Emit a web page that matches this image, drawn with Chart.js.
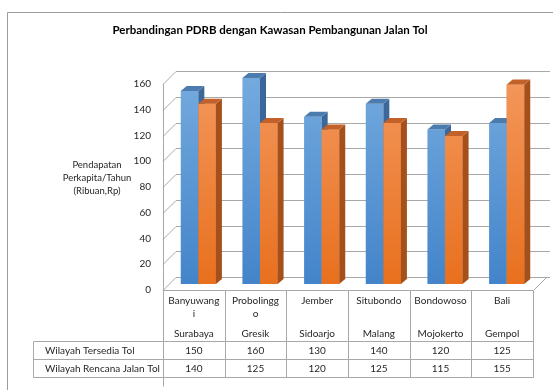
<!DOCTYPE html>
<html>
<head>
<meta charset="utf-8">
<script src="https://cdn.jsdelivr.net/npm/chart.js@4/dist/chart.umd.min.js"></script>
<style>
  html, body { margin: 0; padding: 0; background: #ffffff; }
  canvas { display: block; }
</style>
</head>
<body>
<canvas id="chart" width="553" height="390"></canvas>
<script>
// ---- data ----
const chartTitle = 'Perbandingan PDRB dengan Kawasan Pembangunan Jalan Tol';
// origin names as they break inside the narrow table cells
const originLines = [['Banyuwang', 'i'], ['Probolingg', 'o'], ['Jember'], ['Situbondo'], ['Bondowoso'], ['Bali']];
const destinations = ['Surabaya', 'Gresik', 'Sidoarjo', 'Malang', 'Mojokerto', 'Gempol'];
const seriesNames = ['Wilayah Tersedia Tol', 'Wilayah Rencana Jalan Tol'];
const tersediaTol = [150, 160, 130, 140, 120, 125];
const rencanaJalanTol = [140, 125, 120, 125, 115, 155];
const yTickValues = [0, 20, 40, 60, 80, 100, 120, 140, 160];
const yAxisTitle = ['Pendapatan', 'Perkapita/Tahun', '(Ribuan,Rp)'];

// ---- look ----
const FONT = 'Lato, "Open Sans", sans-serif';
const TEXT = '#262626';
const GRID = '#a8a8a8';
const WALL = { x: 13, y: -13 };       // depth of the side wall / back wall
const BAR_SHIFT = { x: 4.5, y: -6 };  // bars stand half way into the floor
const BAR_DEPTH = { x: 6, y: -5 };    // thickness of each column
const TABLE = { labelLeft: 33, headerBottom: 341, rowH: 18, labelPad: 12 };

function gradient(chart, top, bottom) {
  const a = chart.chartArea;
  if (!a) return top;
  const g = chart.ctx.createLinearGradient(0, a.top, 0, a.bottom);
  g.addColorStop(0, top);
  g.addColorStop(1, bottom);
  return g;
}

const column3d = {
  id: 'column3d',
  beforeDraw(chart) {
    const { ctx, chartArea: a, scales: { y } } = chart;
    ctx.save();
    ctx.lineWidth = 1;
    // outer frame
    ctx.strokeStyle = '#9c9c9c';
    ctx.beginPath();
    ctx.moveTo(7.5, 390); ctx.lineTo(7.5, 12.5); ctx.lineTo(553, 12.5);
    ctx.stroke();
    // side wall and back wall gridlines
    ctx.strokeStyle = GRID;
    ctx.beginPath();
    const backRight = a.right + 17;
    yTickValues.forEach(v => {
      const py = Math.round(y.getPixelForValue(v)) + 0.5;
      ctx.moveTo(a.left, py);
      ctx.lineTo(a.left + WALL.x, py + WALL.y);
      ctx.lineTo(backRight, py + WALL.y);
    });
    // floor right edge
    const fy = Math.round(y.getPixelForValue(0)) + 0.5;
    ctx.moveTo(a.right + 0.5, fy);
    ctx.lineTo(a.right + WALL.x + 0.5, fy + WALL.y);
    ctx.stroke();
    ctx.restore();
  },
  beforeDatasetsDraw(chart) {
    chart.ctx.save();
    chart.ctx.translate(BAR_SHIFT.x, BAR_SHIFT.y);
  },
  afterDatasetsDraw(chart) {
    const ctx = chart.ctx;
    chart.data.datasets.forEach((ds, i) => {
      const meta = chart.getDatasetMeta(i);
      meta.data.forEach(bar => {
        // the right-hand column's face has to sit over its neighbour's side
        if (i > 0) bar.draw(ctx);
        const { x, y, width, base } = bar.getProps(['x', 'y', 'width', 'base'], true);
        const l = x - width / 2, r = x + width / 2;
        ctx.fillStyle = ds.sideColor;
        ctx.beginPath();
        ctx.moveTo(r, y);
        ctx.lineTo(r + BAR_DEPTH.x, y + BAR_DEPTH.y);
        ctx.lineTo(r + BAR_DEPTH.x, base + BAR_DEPTH.y);
        ctx.lineTo(r, base);
        ctx.closePath();
        ctx.fill();
        ctx.fillStyle = ds.topColor;
        ctx.beginPath();
        ctx.moveTo(l, y);
        ctx.lineTo(l + BAR_DEPTH.x, y + BAR_DEPTH.y);
        ctx.lineTo(r + BAR_DEPTH.x, y + BAR_DEPTH.y);
        ctx.lineTo(r, y);
        ctx.closePath();
        ctx.fill();
      });
    });
    ctx.restore();
  },
  afterDraw(chart) {
    const { ctx, chartArea: a, scales: { x } } = chart;
    const n = chart.data.labels.length;
    const step = x.getPixelForValue(1) - x.getPixelForValue(0);
    const edge = i => Math.round(x.getPixelForValue(i) - step / 2) + 0.5;
    const top = Math.round(a.bottom) + 0.5;
    const r1 = TABLE.headerBottom + 0.5;
    const r2 = r1 + TABLE.rowH;
    const r3 = r2 + TABLE.rowH;
    ctx.save();
    ctx.lineWidth = 1;
    ctx.strokeStyle = GRID;
    ctx.beginPath();
    // floor front edge / table top
    ctx.moveTo(edge(0), top); ctx.lineTo(edge(n), top);
    for (let i = 0; i <= n; i++) {
      ctx.moveTo(edge(i), top);
      ctx.lineTo(edge(i), i === 0 ? r3 + 9 : r3);
    }
    [r1, r2, r3].forEach(ry => { ctx.moveTo(TABLE.labelLeft + 0.5, ry); ctx.lineTo(edge(n), ry); });
    ctx.moveTo(TABLE.labelLeft + 0.5, r1); ctx.lineTo(TABLE.labelLeft + 0.5, r3);
    ctx.stroke();

    // header cells and values
    ctx.fillStyle = TEXT;
    ctx.font = '10px ' + FONT;
    ctx.textAlign = 'center';
    ctx.textBaseline = 'middle';
    const tableRows = [tersediaTol, rencanaJalanTol];
    for (let i = 0; i < n; i++) {
      const cx = x.getPixelForValue(i);
      originLines[i].forEach((t, k) => ctx.fillText(t, cx, 301 + k * 12.5));
      ctx.fillText(destinations[i], cx, 334);
      tableRows.forEach((row, k) => ctx.fillText(String(row[i]), cx, r1 + TABLE.rowH * (k + 0.5)));
    }
    // series names
    ctx.textAlign = 'left';
    seriesNames.forEach((s, k) => ctx.fillText(s, TABLE.labelLeft + TABLE.labelPad, r1 + TABLE.rowH * (k + 0.5)));

    // value axis title
    ctx.textAlign = 'center';
    ctx.font = '9.5px ' + FONT;
    yAxisTitle.forEach((t, k) => ctx.fillText(t, 97, 165 + k * 13));
    ctx.restore();
  }
};

const ctx = document.getElementById('chart').getContext('2d');
new Chart(ctx, {
  type: 'bar',
  data: {
    labels: originLines.map((o, i) => o.join('') + ' - ' + destinations[i]),
    datasets: [
      {
        label: seriesNames[0],
        data: tersediaTol,
        backgroundColor: c => gradient(c.chart, '#74aade', '#4384ca'),
        sideColor: '#3b6898',
        topColor: '#4c7cae',
        clip: false
      },
      {
        label: seriesNames[1],
        data: rencanaJalanTol,
        backgroundColor: c => gradient(c.chart, '#f3975c', '#e8701e'),
        sideColor: '#a5501a',
        topColor: '#c2612a',
        clip: false
      }
    ]
  },
  options: {
    responsive: false,
    animation: false,
    layout: { padding: { left: 7, right: 20, top: 0, bottom: 100 } },
    datasets: { bar: { categoryPercentage: 0.57, barPercentage: 1, borderWidth: 0 } },
    plugins: {
      legend: { display: false },
      tooltip: { enabled: false },
      title: {
        display: true,
        text: chartTitle,
        color: '#000000',
        font: { family: FONT, size: 11.5, weight: 'bold' },
        padding: { top: 23, bottom: 47.2 }
      }
    },
    scales: {
      x: { display: false, offset: true },
      y: {
        min: 0, max: 160,
        afterFit: s => { s.width = 156; },
        afterBuildTicks: s => { s.ticks = yTickValues.map(v => ({ value: v })); },
        grid: { display: false, drawTicks: false },
        border: { display: true, color: GRID },
        ticks: { padding: 12, color: TEXT, font: { family: FONT, size: 10 } }
      }
    }
  },
  plugins: [column3d]
});
</script>
</body>
</html>
